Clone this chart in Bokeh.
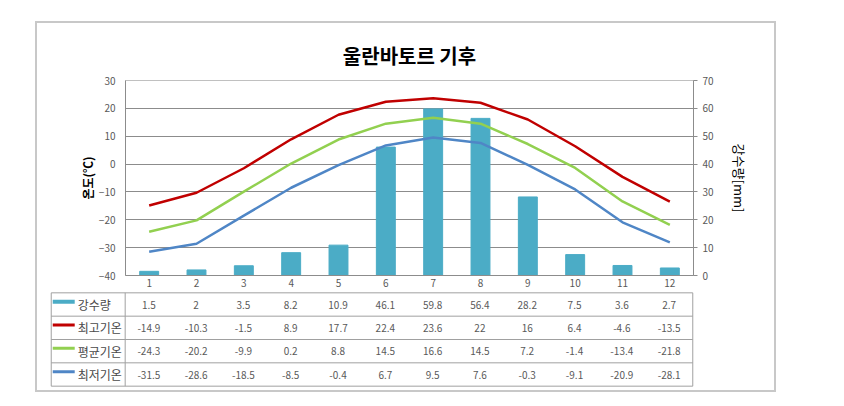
from bokeh.plotting import figure
from bokeh.models import (FactorRange, Range1d, LinearAxis, FixedTicker, Column, Row)
from bokeh.core.properties import value
from bokeh.embed import file_html
from bokeh.resources import INLINE

# ---------------- data ----------------
months = ["1", "2", "3", "4", "5", "6", "7", "8", "9", "10", "11", "12"]
rain = [1.5, 2, 3.5, 8.2, 10.9, 46.1, 59.8, 56.4, 28.2, 7.5, 3.6, 2.7]
tmax = [-14.9, -10.3, -1.5, 8.9, 17.7, 22.4, 23.6, 22, 16, 6.4, -4.6, -13.5]
tavg = [-24.3, -20.2, -9.9, 0.2, 8.8, 14.5, 16.6, 14.5, 7.2, -1.4, -13.4, -21.8]
tmin = [-31.5, -28.6, -18.5, -8.5, -0.4, 6.7, 9.5, 7.6, -0.3, -9.1, -20.9, -28.1]
series_names = ["강수량", "최고기온", "평균기온", "최저기온"]
temp_ticks = [-40, -30, -20, -10, 0, 10, 20, 30]
rain_ticks = [0, 10, 20, 30, 40, 50, 60, 70]
title_text = "울란바토르 기후"
temp_label = "온도(℃)"
rain_label = "강수량[mm]"

FONT = "Noto Sans CJK KR"
C_BAR = "#4BACC6"
C_MAX = "#C00000"
C_AVG = "#92D050"
C_MIN = "#4F86C6"
GRID = "#8c8c8c"
TXT = "#595959"

# ---------------- chart ----------------
p = figure(x_range=FactorRange(factors=months), y_range=Range1d(-40, 30),
           frame_width=568, frame_height=195,
           min_border_left=88, min_border_right=81, min_border_top=57, min_border_bottom=15,
           output_backend="svg", toolbar_location=None, title=title_text)
p.title.align = "center"
p.title.text_font = FONT
p.title.text_font_size = "20px"
p.title.text_font_style = "bold"
p.title.text_color = "#000000"
p.title.standoff = 21

p.extra_y_ranges = {"rain": Range1d(0, 70)}

p.xgrid.visible = False
p.ygrid.grid_line_color = GRID
p.ygrid.ticker = FixedTicker(ticks=temp_ticks)
p.outline_line_color = "#c0c0c0"
p.background_fill_color = "white"
p.border_fill_color = "white"

ya = p.yaxis[0]
ya.ticker = FixedTicker(ticks=temp_ticks)
ya.major_tick_out = 0
ya.major_tick_in = 0
ya.minor_tick_out = 0
ya.minor_tick_in = 0
ya.axis_line_color = GRID
ya.major_label_text_font = FONT
ya.major_label_text_font_size = "10px"
ya.major_label_text_color = TXT
ya.major_label_standoff = 10
ya.axis_label = temp_label
ya.axis_label_text_font = FONT
ya.axis_label_text_font_size = "12px"
ya.axis_label_text_font_style = "bold"
ya.axis_label_text_color = "#000000"
ya.axis_label_standoff = 0

ra = LinearAxis(y_range_name="rain", ticker=FixedTicker(ticks=rain_ticks))
ra.major_tick_out = 4
ra.major_tick_in = 0
ra.minor_tick_out = 0
ra.minor_tick_in = 0
ra.major_tick_line_color = GRID
ra.axis_line_color = GRID
ra.major_label_text_font = FONT
ra.major_label_text_font_size = "10px"
ra.major_label_text_color = TXT
ra.major_label_standoff = 5
ra.axis_label = rain_label
ra.axis_label_text_font = FONT
ra.axis_label_text_font_size = "13px"
ra.axis_label_text_font_style = "normal"
ra.axis_label_text_color = "#000000"
ra.axis_label_standoff = 13
p.add_layout(ra, "right")

xa = p.xaxis[0]
xa.major_tick_out = 0
xa.major_tick_in = 0
xa.axis_line_color = GRID
xa.major_label_text_font = FONT
xa.major_label_text_font_size = "10px"
xa.major_label_text_color = TXT
xa.major_label_standoff = 3

p.vbar(x=months, top=rain, width=0.4, y_range_name="rain",
       fill_color=C_BAR, line_color=C_BAR)
p.line(x=months, y=tmax, line_color=C_MAX, line_width=2.5)
p.line(x=months, y=tavg, line_color=C_AVG, line_width=2.5)
p.line(x=months, y=tmin, line_color=C_MIN, line_width=2.5)

# ---------------- data table ----------------
colw = 568 / 12.0            # pixels per month column
x_left = -74 / colw          # left edge of the label column
t = figure(x_range=Range1d(-1.6, 12.1), y_range=Range1d(-0.1, 4.1),
           frame_width=648, frame_height=98,
           min_border_left=12, min_border_right=77, min_border_top=0, min_border_bottom=2,
           output_backend="svg", toolbar_location=None)
t.axis.visible = False
t.grid.visible = False
t.outline_line_color = None
t.background_fill_color = "white"
t.border_fill_color = "white"

LINE = "#a0a0a0"
# horizontal rules
t.segment(x0=[x_left] * 5, x1=[12] * 5, y0=[0, 1, 2, 3, 4], y1=[0, 1, 2, 3, 4],
          line_color=LINE, line_width=1)
# vertical rules
t.segment(x0=[x_left, 0, 12], x1=[x_left, 0, 12], y0=[0, 0, 0], y1=[4, 4, 4],
          line_color=LINE, line_width=1)

row_y = [3.5, 2.5, 1.5, 0.5]
key_colors = [C_BAR, C_MAX, C_AVG, C_MIN]
key_widths = [4, 3, 3, 3]
kx0 = x_left + 1.5 / colw
kx1 = x_left + 23.5 / colw
for y, c, w in zip(row_y, key_colors, key_widths):
    t.segment(x0=[kx0], x1=[kx1], y0=[y + 0.12], y1=[y + 0.12], line_color=c, line_width=w)
t.text(x=[x_left + 26.5 / colw] * 4, y=row_y, text=series_names,
       text_font=value(FONT), text_font_size="12px", text_color="#4a4a4a",
       text_align="left", text_baseline="middle")

xc = [i + 0.5 for i in range(12)]
for y, vals in zip(row_y, [rain, tmax, tavg, tmin]):
    t.text(x=xc, y=[y] * 12, text=[f"{v:g}" for v in vals],
           text_font=value(FONT), text_font_size="10px", text_color=TXT,
           text_align="center", text_baseline="middle")

layout = Column(children=[Row(children=[p]), Row(children=[t])], spacing=0,
                margin=(21, 0, 0, 35),
                styles={"border": "2px solid #c8c8c8", "background": "white"})

open("out.html", "w").write(file_html(layout, INLINE))
